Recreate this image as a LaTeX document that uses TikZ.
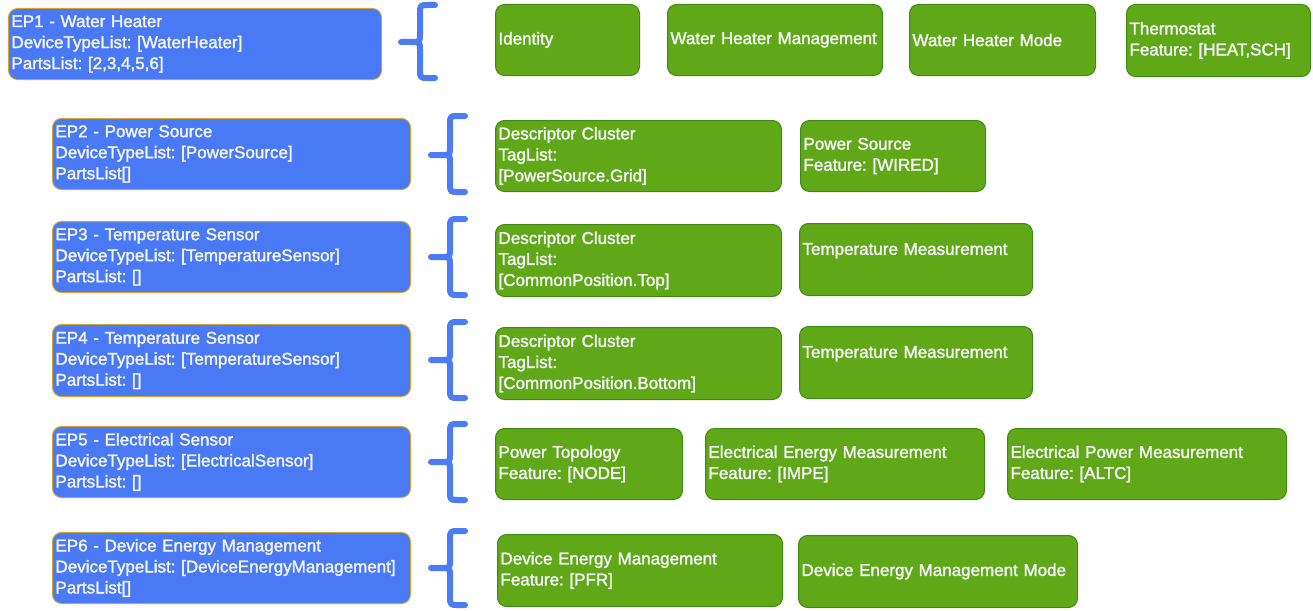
\documentclass[tikz,border=0pt]{standalone}
\usepackage{fontspec}
\newfontfamily\libsans[FakeBold=1.8]{Liberation Sans}
\newcommand\boxfont{\libsans\frenchspacing\fontsize{17}{21}\selectfont}
\definecolor{epblue}{HTML}{4A79F5}
\definecolor{epborder}{HTML}{D6A22B}
\definecolor{clgreen}{HTML}{60A818}
\definecolor{clborder}{HTML}{3D8B12}
\definecolor{braceblue}{HTML}{4C7BF4}
\definecolor{boxtext}{HTML}{F2F4F8}
\tikzset{
  epbox/.style={draw=epborder, fill=epblue, line width=1pt, rounded corners=9pt,
    anchor=north west, inner xsep=3pt, inner ysep=0pt, align=left, text=boxtext, font=\boxfont},
  clbox/.style={draw=clborder, fill=clgreen, line width=1pt, rounded corners=9pt,
    anchor=north west, inner xsep=3pt, inner ysep=0pt, align=left, text=boxtext, font=\boxfont},
  bracestroke/.style={draw=braceblue, line width=6pt, line cap=round, line join=round}
}
% #1 right end x, #2 top y, #3 middle y, #4 bottom y
\newcommand\curlybrace[4]{%
  \draw[bracestroke] (#1,#2) -- (#1-7,#2) .. controls (#1-15,#2) .. (#1-15,#2+9)
    -- (#1-15,#3-8) .. controls (#1-15,#3) .. (#1-24,#3) -- (#1-34,#3);
  \draw[bracestroke] (#1-24,#3) .. controls (#1-15,#3) .. (#1-15,#3+8)
    -- (#1-15,#4-9) .. controls (#1-15,#4) .. (#1-7,#4) -- (#1,#4);
}
\begin{document}
\begin{tikzpicture}[x=1pt,y=-1pt]
\useasboundingbox (0,0) rectangle (1313,610);

% endpoints
\node[epbox, text width=367pt, minimum height=71pt] (ep1) at (8,8)
  {EP1 - Water Heater\\DeviceTypeList: [WaterHeater]\\PartsList: [2,3,4,5,6]};
\node[epbox, text width=352pt, minimum height=71pt] (ep2) at (52,118)
  {EP2 - Power Source\\DeviceTypeList: [PowerSource]\\PartsList[]};
\node[epbox, text width=352pt, minimum height=71pt] (ep3) at (52,221)
  {EP3 - Temperature Sensor\\DeviceTypeList: [TemperatureSensor]\\PartsList: []};
\node[epbox, text width=352pt, minimum height=72pt] (ep4) at (52,324)
  {EP4 - Temperature Sensor\\DeviceTypeList: [TemperatureSensor]\\PartsList: []};
\node[epbox, text width=352pt, minimum height=71pt] (ep5) at (52,426)
  {EP5 - Electrical Sensor\\DeviceTypeList: [ElectricalSensor]\\PartsList: []};
\node[epbox, text width=352pt, minimum height=71pt] (ep6) at (52,532)
  {EP6 - Device Energy Management\\DeviceTypeList: [DeviceEnergyManagement]\\PartsList[]};

% braces
\curlybrace{435}{5}{42}{78}
\curlybrace{465}{116}{155}{192}
\curlybrace{465}{219}{257}{295}
\curlybrace{465}{322}{360}{398}
\curlybrace{465}{424}{462}{500}
\curlybrace{465}{531}{568}{605}

% clusters row 1
\node[clbox, text width=138pt, minimum height=71pt] (c11) at (495,4) {Identity};
\node[clbox, text width=209pt, minimum height=71pt] (c12) at (667,4) {Water Heater Management};
\node[clbox, text width=180pt, minimum height=71pt] (c13) at (909,4) {Water Heater Mode};
\node[clbox, text width=178pt, minimum height=72pt] (c14) at (1126,4) {Thermostat\\Feature: [HEAT,SCH]};
% row 2
\node[clbox, text width=280pt, minimum height=71pt] (c21) at (495,120)
  {Descriptor Cluster\\TagList:\\{[}PowerSource.Grid]};
\node[clbox, text width=179pt, minimum height=71pt] (c22) at (800,120) {Power Source\\Feature: [WIRED]};
% row 3
\node[clbox, text width=280pt, minimum height=72pt] (c31) at (495,224)
  {Descriptor Cluster\\TagList:\\{[}CommonPosition.Top]};
\node[clbox, text width=227pt, minimum height=72pt] (c32) at (799,223) {Temperature Measurement\\\mbox{}};
% row 4
\node[clbox, text width=280pt, minimum height=72pt] (c41) at (495,327)
  {Descriptor Cluster\\TagList:\\{[}CommonPosition.Bottom]};
\node[clbox, text width=227pt, minimum height=72pt] (c42) at (799,326) {Temperature Measurement\\\mbox{}};
% row 5
\node[clbox, text width=181pt, minimum height=71pt] (c51) at (495,428) {Power Topology\\Feature: [NODE]};
\node[clbox, text width=273pt, minimum height=71pt] (c52) at (705,428) {Electrical Energy Measurement\\Feature: [IMPE]};
\node[clbox, text width=273pt, minimum height=71pt] (c53) at (1007,428) {Electrical Power Measurement\\Feature: [ALTC]};
% row 6
\node[clbox, text width=279pt, minimum height=72pt] (c61) at (497,534) {Device Energy Management\\Feature: [PFR]};
\node[clbox, text width=273pt, minimum height=72pt] (c62) at (798,535) {Device Energy Management Mode};
\end{tikzpicture}
\end{document}
